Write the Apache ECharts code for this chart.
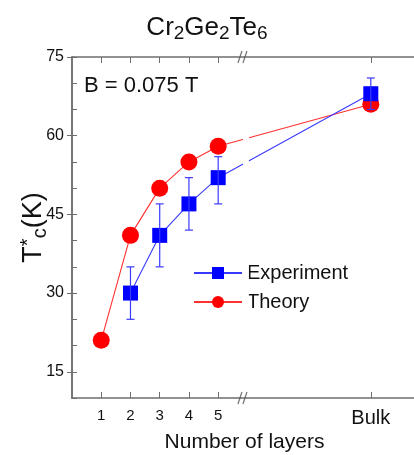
<!DOCTYPE html>
<html lang="en">
<head>
    <meta charset="UTF-8">
    <title>Cr2Ge2Te6</title>
    <style>
        *{ margin: 0; padding: 0; }
        body{ background: #fff; }
        #chart{ width: 414px; height: 455px; }
    </style>
</head>
<body>
    <div id="chart"></div>
    <script src="https://cdn.jsdelivr.net/npm/echarts@6/dist/echarts.min.js"></script>
    <script>
        // layer positions on the x axis, bulk sits after the break
        var bulkPos = 10.22;
        var breakPos = 5.83;
        var breakGap = [5.85, 6.05];
        var tickPos = [1, 2, 3, 4, 5, bulkPos];

        var theoryX = [1, 2, 3, 4, 5, bulkPos];
        var theoryY = [21, 41, 50, 55, 58, 66];

        var expX = [2, 3, 4, 5, bulkPos];
        var expY = [30, 41, 47, 52, 68];
        var expLow = [25, 35, 42, 47, 65];
        var expHigh = [35, 47, 52, 56, 71];

        var yLabels = [15, 30, 45, 60, 75];

        var chart = echarts.init(document.getElementById('chart'));
        var font = 'Liberation Sans, Arial, sans-serif';
        var axisGray = '#6e6e6e';

        function pairs(xs, ys){
            return xs.map(function(x, i){ return [x, ys[i]]; });
        }

        var option = {
            animation: false,
            textStyle: { fontFamily: font, color: '#111' },
            title: {
                text: '{a|Cr}{s|2}{a|Ge}{s|2}{a|Te}{s|6}',
                left: 'center',
                top: 8,
                textStyle: {
                    fontWeight: 'normal',
                    rich: {
                        a: { fontSize: 26, fontFamily: font, fontWeight: 'normal', color: '#111', lineHeight: 30 },
                        s: { fontSize: 19, fontFamily: font, fontWeight: 'normal', color: '#111', lineHeight: 20, verticalAlign: 'bottom' }
                    }
                }
            },
            legend: {
                orient: 'vertical',
                left: 188,
                top: 258,
                itemWidth: 48,
                itemHeight: 15,
                itemGap: 9,
                textStyle: { fontSize: 20, fontFamily: font, color: '#111' },
                data: ['Experiment', 'Theory']
            },
            grid: {
                left: 72, right: -3, top: 57, bottom: 57,
                outerBoundsMode: 'none'
            },
            xAxis: [{
                type: 'value',
                min: 0, max: 11.8,
                position: 'bottom',
                name: 'Number of layers',
                nameLocation: 'middle',
                nameGap: 34,
                nameMoveOverlap: false,
                nameTextStyle: { fontSize: 21, color: '#111' },
                axisLine: { lineStyle: { color: axisGray, width: 1.5 } },
                axisTick: { inside: true, length: 6, customValues: tickPos, lineStyle: { color: axisGray } },
                axisLabel: {
                    customValues: tickPos,
                    margin: 10,
                    fontSize: 15,
                    color: '#111',
                    formatter: function(v){ return v > 6 ? '{b|Bulk}' : String(v); },
                    rich: { b: { fontSize: 20, color: '#111', fontFamily: font } }
                },
                splitLine: { show: false }
            }, {
                type: 'value',
                min: 0, max: 11.8,
                position: 'top',
                axisLine: { lineStyle: { color: axisGray, width: 1.5 } },
                axisTick: { inside: true, length: 6, customValues: tickPos, lineStyle: { color: axisGray } },
                axisLabel: { show: false },
                splitLine: { show: false }
            }],
            yAxis: [{
                type: 'value',
                min: 10, max: 75, interval: 5,
                position: 'left',
                name: '{t|T}{u|*}{c|c}{t|(K)}',
                nameLocation: 'middle',
                nameRotate: 90,
                nameGap: 22,
                nameMoveOverlap: false,
                nameTextStyle: {
                    rich: {
                        t: { fontSize: 27, fontFamily: font, color: '#111', lineHeight: 32 },
                        u: { fontSize: 20, fontFamily: font, color: '#111', lineHeight: 20, verticalAlign: 'top' },
                        c: { fontSize: 20, fontFamily: font, color: '#111', lineHeight: 22, verticalAlign: 'bottom' }
                    }
                },
                axisLine: { show: true, lineStyle: { color: axisGray, width: 1.5 } },
                axisTick: { inside: true, length: 5, lineStyle: { color: axisGray } },
                axisLabel: {
                    margin: 8,
                    fontSize: 16,
                    color: '#111',
                    formatter: function(v){ return yLabels.indexOf(v) >= 0 ? String(v) : ''; }
                },
                splitLine: { show: false }
            }, {
                type: 'value',
                min: 10, max: 75,
                position: 'right',
                axisLine: { show: true, lineStyle: { color: axisGray, width: 1.5 } },
                axisTick: { inside: true, length: 5, customValues: yLabels, lineStyle: { color: axisGray } },
                axisLabel: { show: false },
                splitLine: { show: false }
            }],
            series: [{
                name: 'Theory',
                type: 'line',
                z: 3,
                data: pairs(theoryX, theoryY),
                symbol: 'circle',
                symbolSize: 17,
                itemStyle: { color: '#ff0000' },
                lineStyle: { color: '#ff3030', width: 1.1 }
            }, {
                name: 'Experiment',
                type: 'line',
                z: 4,
                data: pairs(expX, expY),
                symbol: 'rect',
                symbolSize: 15,
                itemStyle: { color: '#0000ff' },
                lineStyle: { color: '#3a3aff', width: 1.1 }
            }, {
                name: 'errors',
                type: 'custom',
                z: 5,
                data: expX.map(function(x, i){ return [x, expLow[i], expHigh[i]]; }),
                encode: { x: 0, y: [1, 2] },
                renderItem: function(params, api){
                    var lo = api.coord([api.value(0), api.value(1)]);
                    var hi = api.coord([api.value(0), api.value(2)]);
                    var w = 4;
                    var st = { stroke: '#3a3aff', lineWidth: 1.2 };
                    return {
                        type: 'group',
                        children: [
                            { type: 'line', shape: { x1: lo[0], y1: lo[1], x2: hi[0], y2: hi[1] }, style: st },
                            { type: 'line', shape: { x1: lo[0] - w, y1: lo[1], x2: lo[0] + w, y2: lo[1] }, style: st },
                            { type: 'line', shape: { x1: hi[0] - w, y1: hi[1], x2: hi[0] + w, y2: hi[1] }, style: st }
                        ]
                    };
                }
            }, {
                // white cut through the lines at the axis break
                name: 'gap',
                type: 'custom',
                z: 10,
                silent: true,
                data: [[breakGap[0], breakGap[1]]],
                renderItem: function(params, api){
                    var a = api.coord([api.value(0), 74]);
                    var b = api.coord([api.value(1), 11]);
                    return {
                        type: 'rect',
                        shape: { x: a[0], y: a[1], width: b[0] - a[0], height: b[1] - a[1] },
                        style: { fill: '#fff' }
                    };
                }
            }, {
                name: 'break',
                type: 'scatter',
                z: 11,
                silent: true,
                clip: false,
                data: [[breakPos, 75], [breakPos, 10]],
                symbol: 'path://M0,12L4,0M5,12L9,0',
                symbolSize: [9, 12],
                itemStyle: { color: 'rgba(0,0,0,0)', borderColor: '#555', borderWidth: 1.5 }
            }],
            graphic: [{
                type: 'text',
                left: 84,
                top: 75,
                style: { text: 'B = 0.075 T', fontSize: 22, fontFamily: font, fill: '#111' }
            }]
        };

        chart.setOption(option);
    </script>
</body>
</html>
